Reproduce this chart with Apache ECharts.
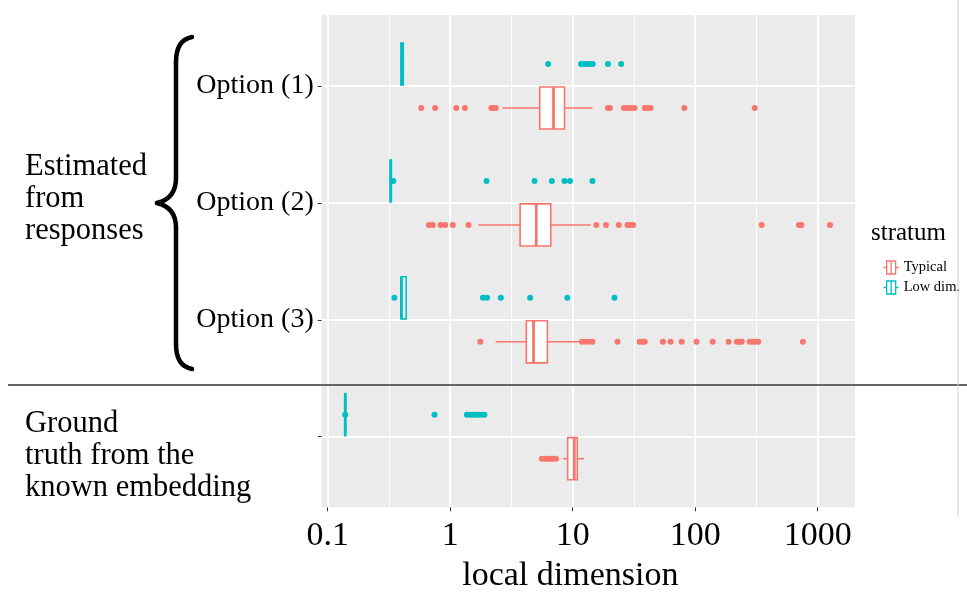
<!DOCTYPE html>
<html><head><meta charset="utf-8">
<script src="https://cdn.jsdelivr.net/npm/echarts@6/dist/echarts.min.js"></script>
<style>html,body{margin:0;padding:0;background:#fff}#c{width:967px;height:593px}</style>
</head><body><div id="c"></div>
<script>
// ---- data ----
const categories = ['Option (1)', 'Option (2)', 'Option (3)', 'Ground truth'];
const categoryLabels = ['Option (1)', 'Option (2)', 'Option (3)', ''];
const strata = ['Typical', 'Low dim.'];
// [lower whisker, Q1, median, Q3, upper whisker] per category
const typicalBoxes = [
  [2.67, 5.38, 6.97, 8.57, 14.5],
  [1.70, 3.72, 5.04, 6.62, 14.0],
  [2.35, 4.18, 4.79, 6.21, 11.5],
  [8.3, 9.1, 10.3, 10.9, 12.4]
];
const lowDimBoxes = [
  [0.392, 0.396, 0.403, 0.414, 0.418],
  [0.322, 0.324, 0.327, 0.330, 0.332],
  [0.39, 0.397, 0.40, 0.437, 0.44],
  [0.137, 0.138, 0.139, 0.140, 0.141]
];
const typicalOutliers = [
  [0.58, 0.753, 1.12, 1.32, 2.17, 2.25, 2.35, 19.4, 20.1, 26.2, 28.0, 30.0, 31.9, 38.8, 41.0, 43.2, 81.5, 306],
  [0.67, 0.72, 0.835, 0.91, 1.05, 1.41, 15.6, 18.7, 23.8, 28.0, 29.5, 31.2, 349, 703, 736, 1260],
  [1.76, 11.9, 12.8, 13.6, 14.5, 23.2, 35.2, 37.0, 38.7, 54.5, 62.9, 77.6, 102.5, 139, 187, 219, 230, 240, 279, 295, 310, 327, 757],
  [5.6, 6.0, 6.3, 6.6, 6.9, 7.3]
];
const lowDimOutliers = [
  [6.3, 11.7, 12.3, 13.0, 13.8, 14.6, 19.4, 24.9],
  [0.343, 1.98, 4.88, 6.76, 8.57, 9.5, 14.5],
  [0.35, 1.85, 2.0, 2.59, 4.49, 9.03, 21.9],
  [0.139, 0.744, 1.37, 1.45, 1.53, 1.62, 1.7, 1.8, 1.9]
];
const xTicks = [0.1, 1, 10, 100, 1000];
const xMinorBreaks = [0.3162, 3.162, 31.62, 316.2];
const xMin = 0.0893, xMax = 2016;

// ---- styles ----
const RED = '#F8766D', TEAL = '#00BFC4';
const SERIF = '"Liberation Serif", "DejaVu Serif", serif';
const BOX_FRAC = 0.36;
const PANEL = {left: 321.7, right: 112};

function boxRenderer(color) {
  return function (params, api) {
    const cat = api.value(0);
    const lo = api.coord([api.value(1), cat]);
    const q1 = api.coord([api.value(2), cat]);
    const md = api.coord([api.value(3), cat]);
    const q3 = api.coord([api.value(4), cat]);
    const hi = api.coord([api.value(5), cat]);
    const band = Math.abs(api.coord([api.value(3), 1])[1] - api.coord([api.value(3), 0])[1]);
    const h = band * BOX_FRAC;
    const y = md[1];
    const ls = {stroke: color, lineWidth: 1.5};
    return {type: 'group', children: [
      {type: 'line', shape: {x1: lo[0], y1: y, x2: q1[0], y2: y}, style: ls},
      {type: 'line', shape: {x1: q3[0], y1: y, x2: hi[0], y2: y}, style: ls},
      {type: 'rect', shape: {x: q1[0], y: y - h / 2, width: q3[0] - q1[0], height: h},
        style: {fill: '#fff', stroke: color, lineWidth: 1.6}},
      {type: 'line', shape: {x1: md[0], y1: y - h / 2, x2: md[0], y2: y + h / 2},
        style: {stroke: color, lineWidth: 2.8}}
    ]};
  };
}
function outlierData(arr) {
  const out = [];
  arr.forEach((vals, i) => vals.forEach(v => out.push([v, i])));
  return out;
}
function hiddenLog(gridIndex) {
  return {gridIndex, type: 'log', min: xMin, max: xMax, show: false, splitLine: {show: false}};
}
function hiddenCat(gridIndex) {
  return {gridIndex, type: 'category', data: categories, inverse: true, boundaryGap: false, show: false, splitLine: {show: false}};
}
function grid(top, bottom, extra) {
  return Object.assign({left: PANEL.left, right: PANEL.right, top, bottom, outerBoundsMode: 'none', containLabel: false}, extra || {});
}
const fmt = v => String(+(+v).toPrecision(6));
const braceStyle = {stroke: '#000', lineWidth: 4.5, fill: null, lineCap: 'round'};

const chart = echarts.init(document.getElementById('c'));
chart.setOption({
  animation: false,
  backgroundColor: '#fff',
  title: {text: 'stratum', left: 866, top: 216,
    textStyle: {fontFamily: SERIF, fontSize: 25, fontWeight: 'normal', color: '#000'}},
  legend: {
    left: 878, top: 255, orient: 'vertical', itemWidth: 15, itemHeight: 15, itemGap: 5,
    textStyle: {fontFamily: SERIF, fontSize: 14.5, color: '#000'},
    data: [
      {name: 'Typical', icon: 'path://M0,7.5L3,7.5M3,1L12,1L12,14L3,14ZM7.5,1L7.5,14M12,7.5L15,7.5',
        itemStyle: {color: '#fff', borderColor: RED, borderWidth: 1.3}},
      {name: 'Low dim.', icon: 'path://M0,7.5L3,7.5M3,1L12,1L12,14L3,14ZM7.5,1L7.5,14M12,7.5L15,7.5',
        itemStyle: {color: '#fff', borderColor: TEAL, borderWidth: 1.3}}
    ]
  },
  grid: [
    grid(15, 85.7, {show: true, backgroundColor: '#EBEBEB', borderWidth: 0}),
    grid(86, 156.3),
    grid(64, 178.3),
    grid(108, 134.3)
  ],
  xAxis: [
    {gridIndex: 0, type: 'log', min: xMin, max: xMax,
      axisLine: {show: false},
      axisTick: {show: true, length: 4, lineStyle: {color: '#333', width: 1}, customValues: xTicks},
      axisLabel: {customValues: xTicks, formatter: fmt, fontFamily: SERIF, fontSize: 34, color: '#000', margin: 12},
      splitLine: {show: true, lineStyle: {color: '#fff', width: 1.8}},
      name: 'local dimension', nameLocation: 'middle', nameGap: 52,
      nameTextStyle: {fontFamily: SERIF, fontSize: 34, color: '#000', padding: [0, 36, 0, 0]}},
    {gridIndex: 0, type: 'log', min: xMin, max: xMax,
      axisLine: {show: false}, axisLabel: {show: false},
      axisTick: {show: false, customValues: xMinorBreaks},
      splitLine: {show: true, lineStyle: {color: '#fff', width: 0.9}}},
    hiddenLog(1), hiddenLog(2), hiddenLog(3)
  ],
  yAxis: [
    {gridIndex: 0, type: 'value', min: 0, max: 1, show: false},
    {gridIndex: 1, type: 'category', data: categoryLabels, inverse: true, boundaryGap: false,
      axisLine: {show: false},
      axisTick: {show: true, length: 4, lineStyle: {color: '#333', width: 1}},
      axisLabel: {fontFamily: SERIF, fontSize: 28, color: '#000', margin: 8, interval: 0},
      splitLine: {show: true, interval: 0, lineStyle: {color: '#fff', width: 1.8}}},
    hiddenCat(2), hiddenCat(3)
  ],
  series: [
    {name: 'Typical', type: 'custom', xAxisIndex: 4, yAxisIndex: 3,
      itemStyle: {color: RED}, encode: {x: [1, 2, 3, 4, 5], y: 0},
      renderItem: boxRenderer(RED), data: typicalBoxes.map((b, i) => [i, ...b]), z: 3},
    {name: 'Typical', type: 'scatter', xAxisIndex: 4, yAxisIndex: 3, symbolSize: 6,
      itemStyle: {color: RED, opacity: 1}, data: outlierData(typicalOutliers), z: 4},
    {name: 'Low dim.', type: 'custom', xAxisIndex: 3, yAxisIndex: 2,
      itemStyle: {color: TEAL}, encode: {x: [1, 2, 3, 4, 5], y: 0},
      renderItem: boxRenderer(TEAL), data: lowDimBoxes.map((b, i) => [i, ...b]), z: 3},
    {name: 'Low dim.', type: 'scatter', xAxisIndex: 3, yAxisIndex: 2, symbolSize: 6,
      itemStyle: {color: TEAL, opacity: 1}, data: outlierData(lowDimOutliers), z: 4}
  ],
  graphic: [
    {type: 'bezierCurve', z: 100, shape: {x1: 192, y1: 37, cpx1: 181, cpy1: 39, cpx2: 176, cpy2: 47, x2: 176, y2: 62}, style: braceStyle},
    {type: 'line', z: 100, shape: {x1: 176, y1: 62, x2: 176, y2: 178}, style: braceStyle},
    {type: 'bezierCurve', z: 100, shape: {x1: 176, y1: 178, cpx1: 176, cpy1: 192, cpx2: 170, cpy2: 200, x2: 157, y2: 203}, style: braceStyle},
    {type: 'bezierCurve', z: 100, shape: {x1: 157, y1: 203, cpx1: 170, cpy1: 206, cpx2: 176, cpy2: 214, x2: 176, y2: 228}, style: braceStyle},
    {type: 'line', z: 100, shape: {x1: 176, y1: 228, x2: 176, y2: 344}, style: braceStyle},
    {type: 'bezierCurve', z: 100, shape: {x1: 176, y1: 344, cpx1: 176, cpy1: 359, cpx2: 181, cpy2: 367, x2: 192, y2: 369}, style: braceStyle},
    {type: 'line', z: 100, shape: {x1: 8, y1: 385, x2: 967, y2: 385}, style: {stroke: '#666', lineWidth: 2}},
    {type: 'line', z: 100, shape: {x1: 958, y1: 0, x2: 958, y2: 516}, style: {stroke: '#d0d0d0', lineWidth: 1}},
    {type: 'text', z: 100, style: {text: 'Estimated\nfrom\nresponses', x: 25, y: 198.5, fill: '#000',
      font: '30.5px ' + SERIF, lineHeight: 32, verticalAlign: 'middle', align: 'left'}},
    {type: 'text', z: 100, style: {text: 'Ground\ntruth from the\nknown embedding', x: 25, y: 456, fill: '#000',
      font: '30.5px ' + SERIF, lineHeight: 32, verticalAlign: 'middle', align: 'left'}}
  ]
});
</script></body></html>
